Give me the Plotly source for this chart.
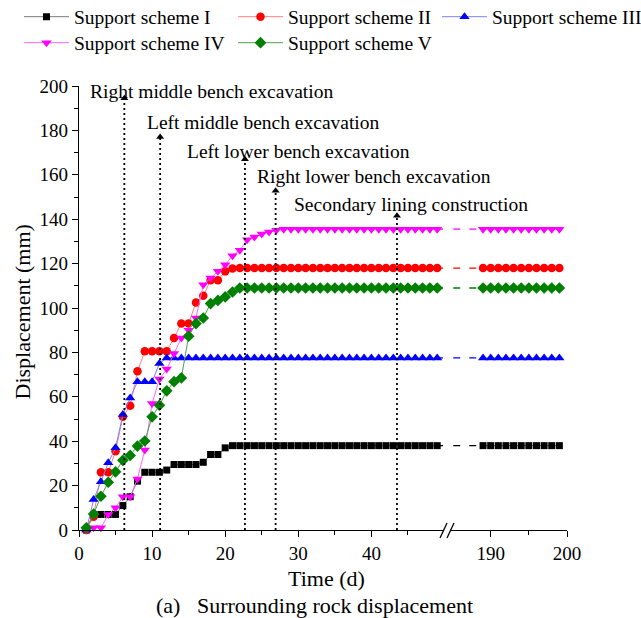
import plotly.graph_objects as go

# ---- data -------------------------------------------------------------
days_early = list(range(1, 50))            # 1 .. 49 d
days_late = list(range(189, 200))          # 189 .. 199 d

scheme_I = [0, 7, 7, 7, 7, 11, 15, 22, 26, 26, 26, 27, 29.5, 29.5, 29.5, 29.5, 30.5, 34, 34, 37,
            38, 38, 38, 38, 38, 38, 38, 38, 38, 38, 38, 38, 38, 38, 38, 38, 38, 38, 38, 38,
            38, 38, 38, 38, 38, 38, 38, 38, 38]
scheme_II = [0, 6, 26, 26, 35.5, 51, 56, 71.5, 80.5, 80.5, 80.5, 80.5, 86.5, 93, 93, 102.5, 105.5, 112.5, 112.5, 116.5,
             117.8, 118, 118, 118, 118, 118, 118, 118, 118, 118, 118, 118, 118, 118, 118, 118, 118, 118, 118, 118,
             118, 118, 118, 118, 118, 118, 118, 118, 118]
scheme_III = [0, 13.7, 21.7, 30.3, 37, 52, 59.5, 66.8, 66.8, 66.8, 75, 77.5, 77.5, 77.5, 77.5, 77.5, 77.5, 77.5, 77.5, 77.5,
              77.5, 77.5, 77.5, 77.5, 77.5, 77.5, 77.5, 77.5, 77.5, 77.5, 77.5, 77.5, 77.5, 77.5, 77.5, 77.5, 77.5, 77.5, 77.5, 77.5,
              77.5, 77.5, 77.5, 77.5, 77.5, 77.5, 77.5, 77.5, 77.5]
scheme_IV = [0, 1, 1, 7, 10, 15, 15, 23, 36, 57, 68, 72.5, 79.5, 86.5, 90, 95.5, 110.5, 113.5, 116.5, 119.5,
             123.5, 126, 130.7, 132, 133.3, 134.2, 135, 135.5, 135.5, 135.5, 135.5, 135.5, 135.5, 135.5, 135.5, 135.5, 135.5, 135.5, 135.5, 135.5,
             135.5, 135.5, 135.5, 135.5, 135.5, 135.5, 135.5, 135.5, 135.5]
scheme_V = [1, 7.2, 15.2, 21.5, 26.2, 31.4, 33.6, 37.8, 40.1, 51, 56.2, 62.7, 66.8, 68.5, 87.3, 93, 95.5, 102, 103.4, 105,
            107.2, 109, 109, 109, 109, 109, 109, 109, 109, 109, 109, 109, 109, 109, 109, 109, 109, 109, 109, 109,
            109, 109, 109, 109, 109, 109, 109, 109, 109]

# long-term (189-199 d) stable values
late_I = [38] * 11
late_II = [118] * 11
late_III = [77.5] * 11
late_IV = [135.5] * 11
late_V = [109] * 11

names = ["Support scheme I", "Support scheme II", "Support scheme III",
         "Support scheme IV", "Support scheme V"]

# construction stages
event_labels = ["Right middle bench excavation", "Left middle bench excavation",
                "Left lower bench excavation", "Right lower bench excavation",
                "Secondary lining construction"]
event_days = [6.2, 11.1, 22.7, 26.9, 43.5]
event_tops = [194.5, 177.0, 167.0, 152.8, 141.6]
label_x = [1.2, 9.0, 14.5, 24.1, 29.1]
label_y = [197.6, 183.5, 170.7, 159.2, 146.4]

# ---- styling ----------------------------------------------------------
FONT = "Liberation Serif"
marker_colors = ["#000000", "#ff0000", "#0000ff", "#ff00ff", "#008000"]
line_colors = ["#7a7a7a", "#ff8080", "#7f7fff", "#ff66ff", "#4f9f4f"]
symbols = ["square", "circle", "triangle-up", "triangle-down", "diamond"]
sizes = [7, 8.5, 9, 9, 9]

early = [scheme_I, scheme_II, scheme_III, scheme_IV, scheme_V]
late = [late_I, late_II, late_III, late_IV, late_V]

W, H = 641, 618
ML, MR, MT, MB = 79, 74, 86, 88
PW = W - ML - MR
PH = H - MT - MB
left_end = (443 - ML) / PW
right_start = (451 - ML) / PW

# legend entry placement (container pixels: left edge, vertical centre)
legend_ids = ["legend", "legend2", "legend3", "legend4", "legend5"]
legend_pos = [(19, 17), (233, 17), (437, 17), (19, 43), (233, 43)]

fig = go.Figure()

for i in range(5):
    fig.add_trace(go.Scatter(
        x=days_early, y=early[i], name=names[i], mode="lines+markers",
        xaxis="x", yaxis="y", cliponaxis=False, legend=legend_ids[i],
        line=dict(color=line_colors[i], width=1),
        marker=dict(symbol=symbols[i], size=sizes[i], color=marker_colors[i], line=dict(width=0)),
    ))

for i in range(5):
    # dashed link across the axis break
    fig.add_trace(go.Scatter(
        x=[days_early[-1], days_early[-1] + 3], y=[early[i][-1], early[i][-1]],
        mode="lines", xaxis="x", yaxis="y", showlegend=False, hoverinfo="skip",
        line=dict(color=marker_colors[i], width=1.3, dash="7px,9px"),
    ))
    fig.add_trace(go.Scatter(
        x=[days_late[0] - 6, days_late[0]], y=[late[i][0], late[i][0]],
        mode="lines", xaxis="x2", yaxis="y", showlegend=False, hoverinfo="skip",
        line=dict(color=marker_colors[i], width=1.3, dash="7px,9px"),
    ))
    fig.add_trace(go.Scatter(
        x=days_late, y=late[i], mode="lines+markers", xaxis="x2", yaxis="y",
        showlegend=False, cliponaxis=False,
        line=dict(color=line_colors[i], width=1),
        marker=dict(symbol=symbols[i], size=sizes[i], color=marker_colors[i], line=dict(width=0)),
    ))

# construction stage markers: dotted lines with arrowheads
for d, top in zip(event_days, event_tops):
    fig.add_trace(go.Scatter(
        x=[d, d], y=[0, top], mode="lines", xaxis="x", yaxis="y",
        showlegend=False, hoverinfo="skip",
        line=dict(color="black", width=1.8, dash="2px,3px"),
    ))
fig.add_trace(go.Scatter(
    x=event_days, y=event_tops, mode="markers", xaxis="x", yaxis="y",
    showlegend=False, hoverinfo="skip", cliponaxis=False,
    marker=dict(symbol="triangle-up", size=7, color="black"),
))

annotations = []
for txt, lx, ly in zip(event_labels, label_x, label_y):
    annotations.append(dict(x=lx, y=ly, xref="x", yref="y", text=txt, showarrow=False,
                            xanchor="left", yanchor="middle",
                            font=dict(family=FONT, size=19.5, color="black")))

annotations += [
    dict(x=(326 - ML) / PW, y=-(578 - (MT + PH)) / PH, xref="paper", yref="paper",
         text="Time (d)", showarrow=False, xanchor="center", yanchor="middle",
         font=dict(family=FONT, size=22, color="black")),
    dict(x=(314 - ML) / PW, y=-(605 - (MT + PH)) / PH, xref="paper", yref="paper",
         text="(a)\u00a0\u00a0\u00a0Surrounding rock displacement", showarrow=False,
         xanchor="center", yanchor="middle",
         font=dict(family=FONT, size=22, color="black")),
    dict(x=(22 - ML) / PW, y=0.49, xref="paper", yref="paper",
         text="Displacement (mm)", showarrow=False, textangle=-90,
         xanchor="center", yanchor="middle",
         font=dict(family=FONT, size=22, color="black")),
]

# axis-break symbol "//"
def px_to_paper(px, py):
    return (px - ML) / PW, (MT + PH - py) / PH

shapes = []
for x0 in (440, 447):
    a = px_to_paper(x0, 538)
    b = px_to_paper(x0 + 7, 523)
    shapes.append(dict(type="line", xref="paper", yref="paper",
                       x0=a[0], y0=a[1], x1=b[0], y1=b[1],
                       line=dict(color="black", width=1.3)))

tickfont = dict(family=FONT, size=19, color="black")
axis_common = dict(showline=True, linecolor="black", linewidth=1.2, ticks="outside",
                   ticklen=6, tickwidth=1.2, tickcolor="black", showgrid=False,
                   zeroline=False, tickfont=tickfont)

legend_layouts = {}
for lid, (lx, ly) in zip(legend_ids, legend_pos):
    legend_layouts[lid] = dict(
        xref="container", yref="container", x=lx / W, y=1 - ly / H,
        xanchor="left", yanchor="middle", orientation="h",
        font=dict(family=FONT, size=19.5, color="black"),
        itemwidth=45, bgcolor="rgba(0,0,0,0)", borderwidth=0,
    )

fig.update_layout(
    width=W, height=H,
    margin=dict(l=ML, r=MR, t=MT, b=MB, autoexpand=False),
    paper_bgcolor="white", plot_bgcolor="white",
    font=dict(family=FONT, color="black"),
    xaxis=dict(domain=[0, left_end], range=[0, (443 - ML) / 7.31], anchor="y",
               tickvals=[0, 10, 20, 30, 40],
               minor=dict(tickvals=[5, 15, 25, 35, 45], ticklen=3.5, tickcolor="black", tickwidth=1.2),
               **axis_common),
    xaxis2=dict(domain=[right_start, 1], range=[184.8, 200], anchor="y",
                tickvals=[190, 200],
                minor=dict(tickvals=[195], ticklen=3.5, tickcolor="black", tickwidth=1.2),
                **axis_common),
    yaxis=dict(domain=[0, 1], range=[0, 200], anchor="x", tick0=0, dtick=20,
               minor=dict(dtick=10, ticklen=3.5, tickcolor="black", tickwidth=1.2),
               **axis_common),
    annotations=annotations,
    shapes=shapes,
    showlegend=True,
    **legend_layouts,
)

fig.write_html("out.html")
